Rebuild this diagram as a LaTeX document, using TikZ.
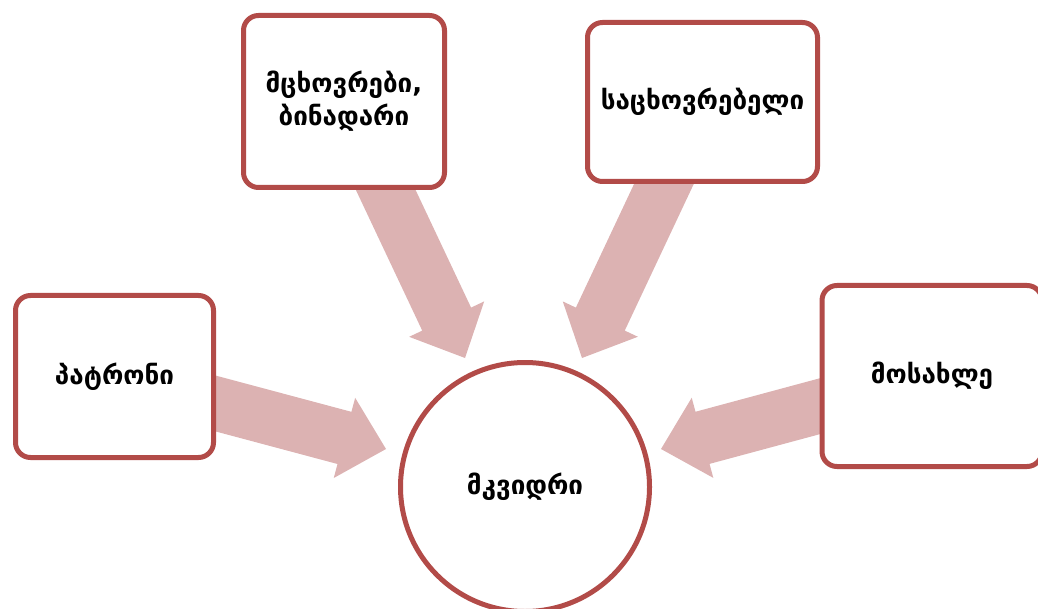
\documentclass[tikz,border=0pt]{standalone}
\usepackage{fontspec}
\newfontfamily\geofont{DejaVu Sans}
\usetikzlibrary{calc,backgrounds}
\definecolor{boxline}{RGB}{178,75,72}
\definecolor{arrowfill}{RGB}{220,178,178}

% broad block arrow from node #1 to coordinate #2
\newcommand\blockarrow[2]{%
  \coordinate (#2-base) at ($(#2)!43pt!(#1)$);
  \fill[arrowfill]
    ($(#1)!27pt!90:(#2)$) --
    ($(#2-base)!27pt!90:(#2)$) --
    ($(#2-base)!41.5pt!90:(#2)$) --
    (#2) --
    ($(#2-base)!41.5pt!-90:(#2)$) --
    ($(#2-base)!27pt!-90:(#2)$) --
    ($(#1)!27pt!-90:(#2)$) -- cycle;
}

\begin{document}
\begin{tikzpicture}[x=1pt,y=-1pt,
  label font/.style={font=\geofont\bfseries\fontsize{26}{33}\selectfont},
  term/.style={draw=boxline, line width=5pt, fill=white, rounded corners=15pt,
    inner sep=0pt, align=center, label font},
  core/.style={draw=boxline, line width=5pt, fill=white, circle, inner sep=0pt,
    minimum size=249pt, label font}]
  \useasboundingbox (0,0) rectangle (1038,609);

  \node[term, minimum width=201pt, minimum height=172pt] (resident) at (344,101.5)
    {მცხოვრები,\\ბინადარი};
  \node[term, minimum width=230pt, minimum height=159pt] (dwelling) at (702.5,102)
    {საცხოვრებელი};
  \node[term, minimum width=198pt, minimum height=162pt] (owner) at (114.5,376.5)
    {პატრონი};
  \node[term, minimum width=220pt, minimum height=181pt] (inhabitant) at (932,376)
    {მოსახლე};
  \node[core] (native) at (525,487) {მკვიდრი};

  \coordinate (tipA) at (465,358);
  \coordinate (tipB) at (582,358);
  \coordinate (tipC) at (386,449);
  \coordinate (tipD) at (661,449);

  \begin{scope}[on background layer]
    \blockarrow{resident}{tipA}
    \blockarrow{dwelling}{tipB}
    \blockarrow{owner}{tipC}
    \blockarrow{inhabitant}{tipD}
  \end{scope}
\end{tikzpicture}
\end{document}
